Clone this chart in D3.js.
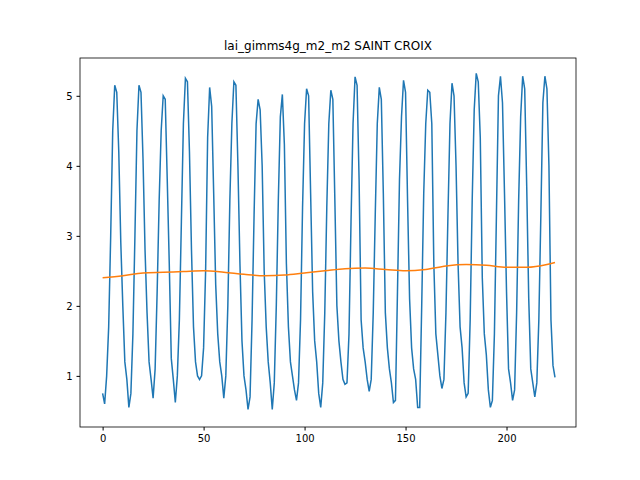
<!DOCTYPE html><html><head><meta charset="utf-8"><script src="https://cdn.jsdelivr.net/npm/d3@7"></script>
<style>body{margin:0;background:#fff}</style></head><body><svg id="c" width="640" height="480"></svg>
<script>
const title="lai_gimms4g_m2_m2 SAINT CROIX";
const lai=[0.75,0.6,1.0,1.7,3.0,4.5,5.15,5.05,4.2,2.9,2.0,1.2,0.95,
0.55,0.75,1.6,3.0,4.5,5.15,5.05,4.1,2.8,1.9,1.2,0.95,
0.68,1.1,2.2,3.5,4.5,5.0,4.95,3.8,2.6,1.25,0.95,
0.62,1.0,1.8,3.2,4.6,5.25,5.2,4.2,2.8,1.7,1.2,1.0,
0.95,1.0,1.4,2.5,4.4,5.12,4.85,3.6,2.3,1.6,1.2,1.0,
0.68,1.0,2.0,3.5,4.6,5.2,5.15,4.0,2.6,1.5,1.0,0.8,
0.52,0.7,1.8,3.3,4.6,4.95,4.8,4.0,2.5,1.7,1.2,0.9,
0.52,0.9,2.0,3.5,4.7,5.02,4.3,2.6,1.7,1.2,1.0,0.8,
0.65,0.9,1.8,3.4,4.6,5.1,5.0,3.6,2.2,1.5,1.2,0.75,
0.55,0.9,1.9,3.4,4.6,5.08,4.95,3.5,2.0,1.5,1.2,0.95,
0.88,0.9,1.6,3.2,4.6,5.27,5.15,3.8,1.8,1.4,1.2,0.95,
0.78,0.95,1.9,3.3,4.6,5.12,4.95,3.6,1.9,1.4,1.1,0.9,
0.62,0.65,2.2,3.8,4.7,5.22,5.05,3.5,2.1,1.4,1.1,0.95,
0.55,0.55,2.0,3.6,4.6,5.08,5.05,4.6,2.6,1.6,1.3,1.0,
0.82,0.95,1.9,3.3,4.6,5.18,5.0,4.0,2.6,1.7,1.4,0.9,
0.7,0.75,1.8,3.5,4.8,5.32,5.2,4.4,2.4,1.6,1.3,0.8,
0.55,0.65,1.6,3.3,5.0,5.28,4.9,3.6,2.2,1.1,0.9,
0.65,0.8,1.9,3.5,4.7,5.28,5.1,3.7,2.1,1.1,0.9,
0.7,0.9,1.8,3.3,4.9,5.28,5.1,4.0,1.8,1.15,0.98];
const trendX=[0,10,20,30,40,50,60,70,80,90,100,110,120,130,140,150,160,170,180,190,200,210,220,224];
const trendY=[2.40,2.43,2.47,2.48,2.49,2.50,2.48,2.45,2.43,2.44,2.47,2.50,2.53,2.54,2.52,2.50,2.52,2.57,2.59,2.58,2.55,2.55,2.59,2.62];
const svg=d3.select("#c");
const L=80,R=576,T=58,B=427;
const x=d3.scaleLinear().domain([-11.2,234.4]).range([L,R]);
const y=d3.scaleLinear().domain([0.27,5.54]).range([B,T]);
svg.append("g").attr("transform",`translate(0,${B})`).call(d3.axisBottom(x).tickValues([0,50,100,150,200]).tickFormat(d3.format("d")).tickSize(3.5).tickPadding(4));
svg.append("g").attr("transform",`translate(${L},0)`).call(d3.axisLeft(y).tickValues([1,2,3,4,5]).tickFormat(d3.format("d")).tickSize(3.5).tickPadding(4));
svg.selectAll(".tick text").attr("font-family","DejaVu Sans").attr("font-size",10).attr("fill","#000");
svg.selectAll(".domain").remove();
svg.append("rect").attr("x",L).attr("y",T).attr("width",R-L).attr("height",B-T).attr("fill","none").attr("stroke","#000").attr("stroke-width",0.8);
svg.append("path").datum(lai).attr("d",d3.line().x((d,i)=>x(i)).y(d=>y(d))).attr("fill","none").attr("stroke","#1f77b4").attr("stroke-width",1.5);
svg.append("path").datum(trendX.map((v,i)=>[v,trendY[i]])).attr("d",d3.line().curve(d3.curveMonotoneX).x(d=>x(d[0])).y(d=>y(d[1]))).attr("fill","none").attr("stroke","#ff7f0e").attr("stroke-width",1.5);
svg.append("text").attr("x",(L+R)/2).attr("y",T-8).attr("text-anchor","middle").attr("font-family","DejaVu Sans").attr("font-size",12).text(title);
</script></body></html>
